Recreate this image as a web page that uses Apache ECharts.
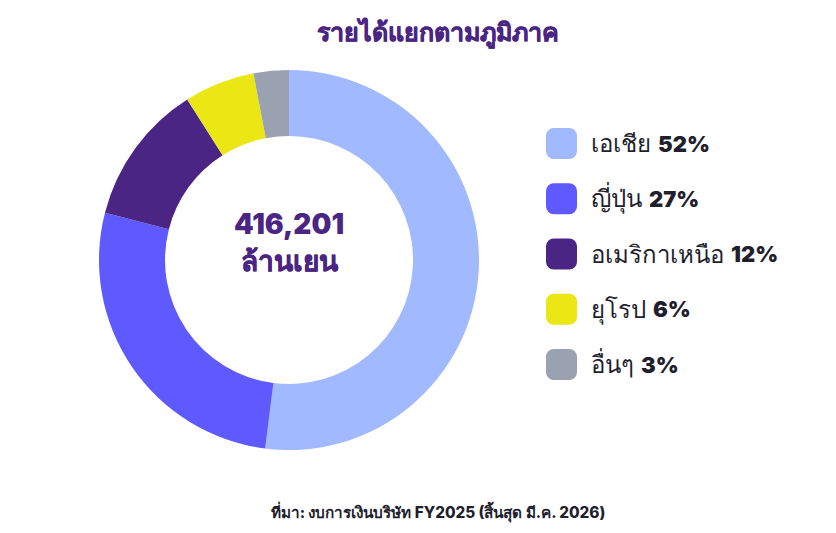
<!DOCTYPE html>
<html>
<head>
<meta charset="utf-8">
<style>
  html, body { margin: 0; padding: 0; background: #fff; }
  #chart { width: 836px; height: 533px; }
</style>
<script src="https://cdn.jsdelivr.net/npm/echarts@6/dist/echarts.min.js"></script>
</head>
<body>
<div id="chart"></div>
<script>
var regions = ['เอเชีย', 'ญี่ปุ่น', 'อเมริกาเหนือ', 'ยุโรป', 'อื่นๆ'];
var shares = [52, 27, 12, 6, 3];
var colors = ['#a0b9ff', '#5f5aff', '#4a2583', '#ebe714', '#9aa1b0'];
var titleText = 'รายได้แยกตามภูมิภาค';
var totalText = '416,201';
var unitText = 'ล้านเยน';
var sourceText = 'ที่มา: งบการเงินบริษัท FY2025 (สิ้นสุด มี.ค. 2026)';

var purple = '#4a2583';
var ink = '#1f1f2e';
var font = 'Inter, "Noto Sans", "DejaVu Sans", sans-serif';

var chart = echarts.init(document.getElementById('chart'), null, { renderer: 'svg' });
chart.setOption({
  animation: false,
  backgroundColor: '#fff',
  color: colors,
  title: [
    { text: titleText, left: 438, top: 32, padding: 0, textAlign: 'center', textVerticalAlign: 'middle',
      textStyle: { color: purple, fontSize: 25, fontWeight: 900, fontFamily: font, textBorderColor: purple, textBorderWidth: 0.5 } },
    { text: totalText, left: 289, top: 224, padding: 0, textAlign: 'center', textVerticalAlign: 'middle',
      textStyle: { color: purple, fontSize: 28, fontWeight: 900, fontFamily: font } },
    { text: unitText, left: 289, top: 261, padding: 0, textAlign: 'center', textVerticalAlign: 'middle',
      textStyle: { color: purple, fontSize: 28, fontWeight: 900, fontFamily: font, textBorderColor: purple, textBorderWidth: 0.5 } },
    { text: sourceText, left: 438, top: 512, padding: 0, textAlign: 'center', textVerticalAlign: 'middle',
      textStyle: { color: ink, fontSize: 15.3, fontWeight: 800, fontFamily: font } }
  ],
  legend: {
    orient: 'vertical',
    left: 541,
    top: 123,
    icon: 'roundRect',
    itemWidth: 31,
    itemHeight: 31,
    itemGap: 24.25,
    selectedMode: false,
    data: regions,
    formatter: function (name) {
      return '{n|' + name + '}{v|' + shares[regions.indexOf(name)] + '%}';
    },
    textStyle: {
      padding: [0, 0, 0, 9],
      rich: {
        n: { color: ink, fontSize: 24, lineHeight: 31, fontFamily: font },
        v: { color: ink, fontSize: 22, lineHeight: 31, fontWeight: 900, fontFamily: font, padding: [0, 0, 0, 7] }
      }
    }
  },
  series: [{
    type: 'pie',
    center: [289, 260],
    radius: [124, 190],
    startAngle: 90,
    clockwise: true,
    label: { show: false },
    labelLine: { show: false },
    silent: true,
    data: regions.map(function (name, i) { return { name: name, value: shares[i] }; })
  }]
});
window.addEventListener('resize', function () { chart.resize(); });
</script>
</body>
</html>
